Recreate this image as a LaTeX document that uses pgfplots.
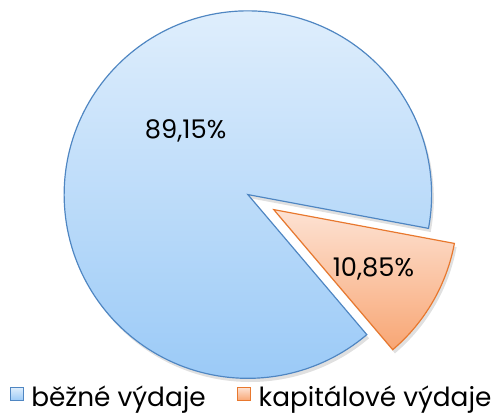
\documentclass[border=0pt]{standalone}
\usepackage{fontspec}
\setmainfont{Poppins}
\usepackage{pgfplots}
\usepackage{pgfplotstable}
\pgfplotsset{compat=1.18}
\definecolor{bluetop}{HTML}{DFEEFC}
\definecolor{bluebot}{HTML}{9BCAF7}
\definecolor{blueedge}{HTML}{4F86C2}
\definecolor{orgtop}{HTML}{FDE2D3}
\definecolor{orgbot}{HTML}{F8A674}
\definecolor{orgedge}{HTML}{E8782E}
\pgfplotstableread{
id value
1 89.15
2 10.85
}\piedata
\pgfplotstablegetelem{0}{value}\of\piedata\let\va\pgfplotsretval
\pgfplotstablegetelem{1}{value}\of\piedata\let\vb\pgfplotsretval
\pgfmathsetmacro\angS{-10.6}
\pgfmathsetmacro\angA{\angS+3.6*\va}
\pgfmathsetmacro\angB{\angA+3.6*\vb}
\pgfmathsetmacro\angM{(\angA+\angB)/2}
\pgfmathsetmacro\ex{0.163*cos(\angM)}
\pgfmathsetmacro\ey{0.163*sin(\angM)}
\begin{document}
\begin{tikzpicture}
\begin{axis}[
  x=139.5pt, y=139.5pt,
  xmin=-1.349, xmax=1.306, ymin=-1.194, ymax=1.059,
  hide axis, clip=false,
  legend columns=2,
  legend style={draw=none, fill=none, at={(axis cs:0.022,-1.180)}, anchor=south,
    font=\fontsize{20}{22}\selectfont, inner sep=0pt,
    /tikz/every even column/.append style={column sep=22pt}},
  legend cell align=left,
]
\path (rel axis cs:0,0) rectangle (rel axis cs:1,1);
% soft shadows
\addplot[draw=none, fill=black, opacity=0.12, domain=\angS:\angA, samples=181, forget plot]
  ({cos(x)+0.012},{sin(x)-0.02}) -- (axis cs:0.012,-0.02) -- cycle;
\addplot[draw=none, fill=black, opacity=0.12, domain=\angA:\angB, samples=41, forget plot]
  ({cos(x)+\ex+0.012},{sin(x)+\ey-0.02}) -- (axis cs:\ex+0.012,\ey-0.02) -- cycle;
% slices
\addplot[draw=blueedge, line width=0.9pt, top color=bluetop, bottom color=bluebot,
  domain=\angS:\angA, samples=181,
  legend image code/.code={\draw[draw=blueedge, line width=0.6pt, top color=bluetop, bottom color=bluebot] (0pt,-2.5pt) rectangle (10pt,7.5pt); \path (13.5pt,0pt);}]
  ({cos(x)},{sin(x)}) -- (axis cs:0,0) -- cycle;
\addlegendentry{běžné výdaje}
\addplot[draw=orgedge, line width=0.9pt, top color=orgtop, bottom color=orgbot,
  domain=\angA:\angB, samples=41,
  legend image code/.code={\draw[draw=orgedge, line width=0.6pt, top color=orgtop, bottom color=orgbot] (0pt,-2.5pt) rectangle (10pt,7.5pt); \path (13.5pt,0pt);}]
  ({cos(x)+\ex},{sin(x)+\ey}) -- (axis cs:\ex,\ey) -- cycle;
\addlegendentry{kapitálové výdaje}
\node[font=\fontsize{19.5}{22}\selectfont] at (axis cs:-0.339,0.349) {89,15\%};
\node[font=\fontsize{19.5}{22}\selectfont] at (axis cs:0.683,-0.403) {10,85\%};
\end{axis}
\end{tikzpicture}
\end{document}
